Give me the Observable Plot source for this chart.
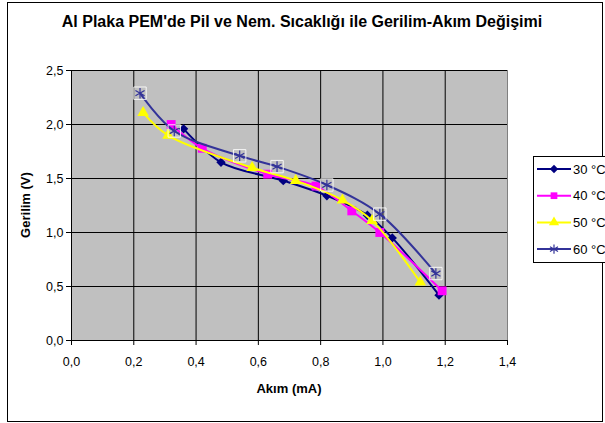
<!DOCTYPE html>
<html><head><meta charset="utf-8">
<script src="https://cdn.jsdelivr.net/npm/d3@7"></script>
<script src="https://cdn.jsdelivr.net/npm/@observablehq/plot@0.6"></script>
<style>body{margin:0;background:#fff;} svg{font-family:"Liberation Sans",Arial,sans-serif;}</style>
</head><body><div id="chart"></div>
<script>
const titleText = "Al Plaka PEM'de Pil ve Nem. Sıcaklığı ile Gerilim-Akım Değişimi";
const xLabel = "Akım (mA)";
const yLabel = "Gerilim (V)";
const seriesNames = ["30 °C", "40 °C", "50 °C", "60 °C"];
const seriesColors = ["#000080", "#ff00ff", "#ffff00", "#333399"];
const seriesSymbols = ["diamond2", "square", "triangle", "asterisk"];

const current30 = [0.36, 0.48, 0.68, 0.82, 0.95, 1.03, 1.18];
const voltage30 = [1.96, 1.65, 1.48, 1.34, 1.16, 0.95, 0.42];
const current40 = [0.32, 0.42, 0.63, 0.785, 0.90, 0.99, 1.19];
const voltage40 = [2.00, 1.78, 1.54, 1.43, 1.20, 1.00, 0.46];
const current50 = [0.23, 0.31, 0.58, 0.72, 0.87, 0.965, 1.12];
const voltage50 = [2.11, 1.90, 1.60, 1.48, 1.30, 1.11, 0.54];
const current60 = [0.22, 0.33, 0.54, 0.66, 0.82, 0.99, 1.17];
const voltage60 = [2.29, 1.94, 1.71, 1.61, 1.44, 1.17, 0.62];

const xTicks = [0, 0.2, 0.4, 0.6, 0.8, 1.0, 1.2, 1.4];
const yTicks = [0, 0.5, 1.0, 1.5, 2.0, 2.5];

const seriesData = [[current30, voltage30], [current40, voltage40], [current50, voltage50], [current60, voltage60]]
  .map(([xs, ys], i) => xs.map((x, j) => ({series: seriesNames[i], x, y: ys[j]})));

const fmt = d => d.toFixed(1).replace(".", ",");
const dotR = {diamond2: 4.2, square: 5, triangle: 4.3};

const seriesMarks = seriesData.flatMap((data, i) => {
  const s = seriesSymbols[i];
  const marks = [Plot.line(data, {x: "x", y: "y", stroke: seriesColors[i], strokeWidth: 2, curve: "catmull-rom"})];
  if (s === "asterisk") {
    marks.push(Plot.dot(data, {x: "x", y: "y", symbol: "square", r: 7, fill: "none", stroke: "#ffffff", strokeOpacity: 0.85, strokeWidth: 1}));
    marks.push(Plot.dot(data, {x: "x", y: "y", symbol: "asterisk", r: 5, stroke: seriesColors[i], strokeWidth: 1.2}));
  } else {
    marks.push(Plot.dot(data, {x: "x", y: "y", symbol: s, r: dotR[s], fill: seriesColors[i], stroke: "none"}));
  }
  return marks;
});

const chart = Plot.plot({
  width: 605, height: 423,
  marginTop: 70, marginBottom: 83, marginLeft: 71, marginRight: 98,
  style: {fontFamily: "Liberation Sans, Arial, sans-serif", fontSize: "12.5px", color: "#000", background: "#fff"},
  x: {domain: [0, 1.4]},
  y: {domain: [0, 2.5]},
  marks: [
    Plot.frame({fill: "#c0c0c0", stroke: "#808080"}),
    Plot.gridX(xTicks.slice(1, -1), {stroke: "#000", strokeOpacity: 1}),
    Plot.gridY(yTicks.slice(1), {stroke: "#000", strokeOpacity: 1}),
    Plot.axisX(xTicks, {tickFormat: fmt, tickSize: 5, tickPadding: 12, label: null}),
    Plot.axisY(yTicks, {tickFormat: fmt, tickSize: 5, tickPadding: 3, label: null}),
    Plot.ruleX([0], {stroke: "#000"}),
    Plot.ruleY([0], {stroke: "#000"}),
    ...seriesMarks
  ]
});

const svg = d3.select(chart);
svg.append("rect").attr("x", 7.5).attr("y", 2.5).attr("width", 595).attr("height", 419)
  .attr("fill", "none").attr("stroke", "#000").attr("stroke-width", 1);
svg.append("text").attr("x", 302).attr("y", 27).attr("text-anchor", "middle")
  .attr("font-weight", "bold").attr("font-size", 16).text(titleText);
svg.append("text").attr("x", 289).attr("y", 393).attr("text-anchor", "middle")
  .attr("font-weight", "bold").attr("font-size", 13).text(xLabel);
svg.append("text").attr("transform", "translate(30,205) rotate(-90)").attr("text-anchor", "middle")
  .attr("font-weight", "bold").attr("font-size", 13).text(yLabel);

const lg = svg.append("g");
lg.append("rect").attr("x", 533.5).attr("y", 156.5).attr("width", 80).attr("height", 106)
  .attr("fill", "#fff").attr("stroke", "#000");
const symMap = {diamond2: d3.symbolDiamond2, square: d3.symbolSquare, triangle: d3.symbolTriangle, asterisk: d3.symbolAsterisk};
seriesNames.forEach((name, i) => {
  const y = 169 + i * 26.7;
  lg.append("line").attr("x1", 537).attr("x2", 571).attr("y1", y).attr("y2", y)
    .attr("stroke", seriesColors[i]).attr("stroke-width", 2);
  const s = seriesSymbols[i];
  lg.append("path").attr("transform", `translate(554,${y})`)
    .attr("d", d3.symbol(symMap[s], s === "asterisk" ? 60 : 45)())
    .attr("fill", s === "asterisk" ? "none" : seriesColors[i])
    .attr("stroke", s === "asterisk" ? seriesColors[i] : "none").attr("stroke-width", 1.2);
  lg.append("text").attr("x", 573).attr("y", y + 4.5).attr("text-anchor", "start")
    .attr("font-size", 13).text(name);
});

document.getElementById("chart").appendChild(chart);
</script></body></html>
